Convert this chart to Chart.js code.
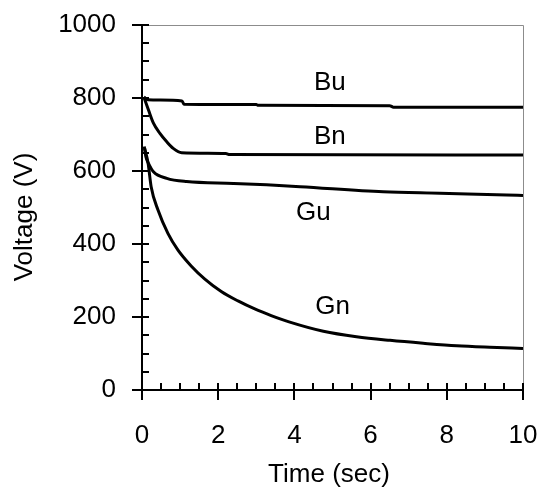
<!DOCTYPE html>
<html>
<head>
<meta charset="utf-8">
<script src="https://cdn.jsdelivr.net/npm/chart.js@4/dist/chart.umd.min.js"></script>
<style>
  html, body { margin: 0; padding: 0; background: #fff; }
  #chart { display: block; }
</style>
</head>
<body>
<canvas id="chart" width="542" height="492"></canvas>
<script>
// values (time in sec, voltage in V)
var buTime    = [0.05, 0.15, 1.05, 1.1, 3.0, 3.05, 6.5, 6.6, 10];
var buVoltage = [803, 795, 792, 783, 782, 780, 779, 775, 775];

var bnTime    = [0.05, 0.17, 0.30, 0.47, 0.65, 0.82, 1.04, 2.2, 2.3, 10];
var bnVoltage = [802, 767, 731, 703, 680, 662, 650, 648, 645, 644];

var guTime    = [0.06, 0.1, 0.17, 0.3, 0.65, 1.17, 2.4, 3.27, 4.15, 6.33, 7.82, 9.57, 10];
var guVoltage = [667, 640, 621, 598, 580, 571, 566, 562, 557, 543, 539, 534, 533];

var gnTime    = [0.07, 0.16, 0.24, 0.42, 0.68, 0.94, 1.29, 1.65, 2.08, 2.52, 2.96, 3.39, 3.88, 4.76, 5.63, 6.51, 7.38, 8.26, 9.13, 10];
var gnVoltage = [662, 621, 557, 493, 429, 384, 340, 304, 270, 244, 222, 204, 186, 161, 146, 136, 128, 121, 117, 114];

var seriesNames = ['Bu', 'Bn', 'Gu', 'Gn'];
var xTicks = [0, 2, 4, 6, 8, 10];
var yTicks = [0, 200, 400, 600, 800, 1000];

// where the series names sit, in data units
var nameX = [4.93, 4.93, 4.5, 5.0];
var nameY = [841, 693, 485, 227];

function toPoints(xs, ys) {
    var pts = [];
    for (var i in xs) {
        pts.push({x: xs[i], y: ys[i]});
    }
    return pts;
}

var FONT = {family: 'Liberation Sans, Arial, sans-serif', size: 26};

var lineStyle = {
    borderColor: '#000',
    borderWidth: 3,
    pointRadius: 0,
    fill: false,
    cubicInterpolationMode: 'monotone'
};

function noPadding(scale) {
    scale.paddingTop = 0;
    scale.paddingBottom = 0;
    scale.paddingLeft = 0;
    scale.paddingRight = 0;
}

// axis lines, crossing major ticks, inside minor ticks, grey frame, titles, series names
var axesPlugin = {
    id: 'axesPlugin',
    afterDatasetsDraw: function(chart) {
        var ctx = chart.ctx;
        var a = chart.chartArea;
        var xs = chart.scales.x, ys = chart.scales.y;
        ctx.save();

        ctx.strokeStyle = '#8c8c8c';
        ctx.lineWidth = 1;
        ctx.beginPath();
        ctx.moveTo(a.left, a.top + 0.5);
        ctx.lineTo(a.right + 0.5, a.top + 0.5);
        ctx.lineTo(a.right + 0.5, a.bottom);
        ctx.stroke();

        ctx.strokeStyle = '#000';
        ctx.lineWidth = 2;
        ctx.beginPath();
        ctx.moveTo(a.left, a.top);
        ctx.lineTo(a.left, a.bottom);
        ctx.lineTo(a.right, a.bottom);
        ctx.stroke();

        ctx.beginPath();
        for (var v = 0; v <= 1000; v += 50) {
            var py = Math.round(ys.getPixelForValue(v));
            if (v % 200 === 0) {
                ctx.moveTo(a.left - 10, py);
            } else {
                ctx.moveTo(a.left, py);
            }
            ctx.lineTo(a.left + 7, py);
        }
        for (var t = 0; t <= 10; t += 0.5) {
            var px = Math.round(xs.getPixelForValue(t));
            ctx.moveTo(px, a.bottom - 7);
            if (t % 2 === 0) {
                ctx.lineTo(px, a.bottom + 10);
            } else {
                ctx.lineTo(px, a.bottom);
            }
        }
        ctx.stroke();

        ctx.fillStyle = '#000';
        ctx.font = FONT.size + 'px ' + FONT.family;
        ctx.textAlign = 'center';
        ctx.textBaseline = 'middle';
        for (var i in seriesNames) {
            ctx.fillText(seriesNames[i], xs.getPixelForValue(nameX[i]), ys.getPixelForValue(nameY[i]));
        }

        ctx.fillText('Time (sec)', 329, 475);
        ctx.translate(25, 217);
        ctx.rotate(-Math.PI / 2);
        ctx.fillText('Voltage (V)', 0, 0);
        ctx.restore();
    }
};

var chartdata = {
    datasets: [
        Object.assign({label: 'Bu', data: toPoints(buTime, buVoltage)}, lineStyle),
        Object.assign({label: 'Bn', data: toPoints(bnTime, bnVoltage)}, lineStyle),
        Object.assign({label: 'Gu', data: toPoints(guTime, guVoltage)}, lineStyle),
        Object.assign({label: 'Gn', data: toPoints(gnTime, gnVoltage)}, lineStyle)
    ]
};

var canvas = document.getElementById('chart');
var graph = new Chart(canvas, {
    type: 'line',
    data: chartdata,
    plugins: [axesPlugin],
    options: {
        responsive: false,
        animation: false,
        layout: {padding: {top: 25, right: 19, left: 0, bottom: 0}},
        plugins: {legend: {display: false}, tooltip: {enabled: false}},
        scales: {
            x: {
                type: 'linear',
                min: 0,
                max: 10,
                afterBuildTicks: function(scale) {
                    scale.ticks = xTicks.map(function(v) { return {value: v}; });
                },
                ticks: {font: FONT, color: '#000', padding: 30, maxRotation: 0},
                grid: {display: false, drawTicks: false},
                border: {display: false},
                afterFit: function(scale) { scale.height = 102; noPadding(scale); }
            },
            y: {
                type: 'linear',
                min: 0,
                max: 1000,
                afterBuildTicks: function(scale) {
                    scale.ticks = yTicks.map(function(v) { return {value: v}; });
                },
                ticks: {
                    font: FONT, color: '#000', padding: 26,
                    callback: function(v) { return String(v); }
                },
                grid: {display: false, drawTicks: false},
                border: {display: false},
                afterFit: function(scale) { scale.width = 142; noPadding(scale); }
            }
        }
    }
});
</script>
</body>
</html>
